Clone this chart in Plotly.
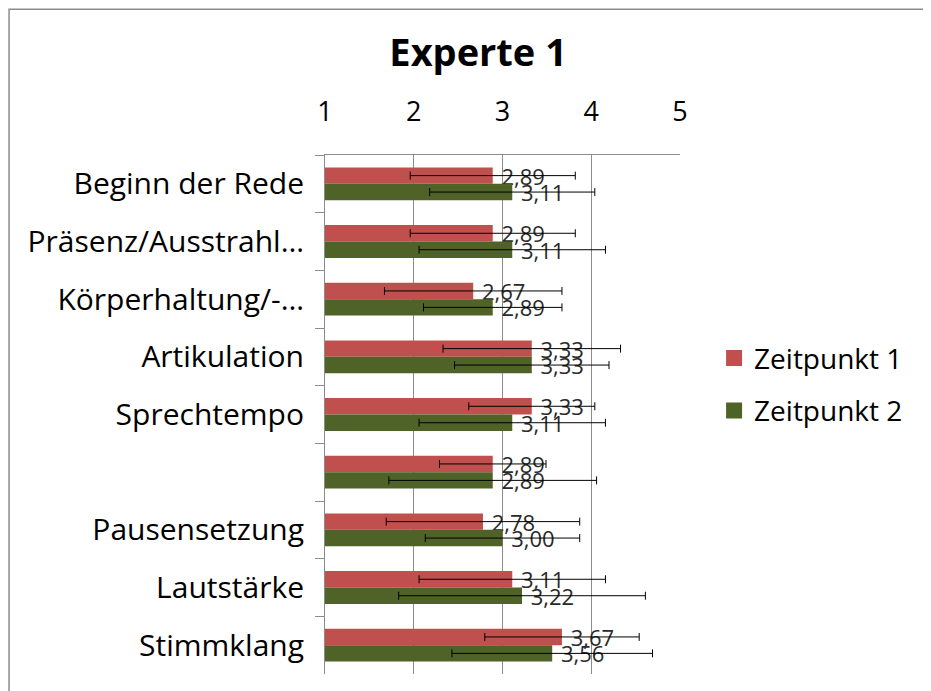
import plotly.graph_objects as go

categories = [
    "Beginn der Rede", "Präsenz/Ausstrahl…", "Körperhaltung/-…", "Artikulation",
    "Sprechtempo", " ", "Pausensetzung", "Lautstärke", "Stimmklang",
]
zeitpunkt1 = [2.89, 2.89, 2.67, 3.33, 3.33, 2.89, 2.78, 3.11, 3.67]
zeitpunkt2 = [3.11, 3.11, 2.89, 3.33, 3.11, 2.89, 3.00, 3.22, 3.56]
sd1 = [0.93, 0.93, 1.00, 1.00, 0.71, 0.60, 1.09, 1.05, 0.87]
sd2 = [0.93, 1.05, 0.78, 0.87, 1.05, 1.17, 0.87, 1.39, 1.13]

FONT = "Open Sans, Lato, sans-serif"
GRID = "#8c8c8c"


def de(v):
    return "\u00a0" + f"{v:.2f}".replace(".", ",")


fig = go.Figure()
series = [
    ("Zeitpunkt 1", zeitpunkt1, sd1, "#C0504D", "a"),
    ("Zeitpunkt 2", zeitpunkt2, sd2, "#4F6228", "b"),
]
for name, vals, sds, color, grp in series:
    fig.add_trace(go.Bar(
        name=name, y=categories, x=vals, orientation="h",
        marker=dict(color=color, line=dict(width=0)),
        text=[de(v) for v in vals], textposition="outside", constraintext="none",
        textfont=dict(family=FONT, size=22, color="#2a2a2a"),
        error_x=dict(type="data", array=sds, color="#000000", thickness=1, width=4),
        legendgroup=grp, showlegend=False,
    ))
# legend entries with bigger square swatches
for name, vals, sds, color, grp in series:
    fig.add_trace(go.Scatter(
        name=name, x=[None], y=[None], mode="markers",
        marker=dict(symbol="square", size=19, color=color),
        legendgroup=grp, showlegend=True,
    ))

fig.update_layout(
    width=931, height=691,
    paper_bgcolor="#ffffff", plot_bgcolor="#ffffff",
    font=dict(family=FONT, color="#000000"),
    barmode="group", bargap=0.43, bargroupgap=0,
    margin=dict(l=317, r=259, t=147, b=25, autoexpand=False),
    title=dict(text="<b>Experte 1</b>", x=0.505, xanchor="center", y=0.936, yanchor="middle",
               font=dict(size=38, family=FONT, color="#000000")),
    xaxis=dict(side="top", range=[1, 5], dtick=1, showgrid=True, gridcolor=GRID, gridwidth=1,
               showline=True, linecolor=GRID, ticks="", zeroline=False,
               ticklabelstandoff=22, tickfont=dict(size=27, family=FONT)),
    yaxis=dict(type="category", autorange="reversed", showgrid=False, showline=True,
               linecolor=GRID, ticks="outside", tickson="boundaries", ticklen=9,
               tickcolor=GRID, ticklabelstandoff=14, tickfont=dict(size=30, family=FONT)),
    legend=dict(x=1.096, xanchor="left", y=0.558, yanchor="middle", traceorder="grouped",
                tracegroupgap=13, font=dict(size=28, family=FONT)),
    showlegend=True,
)

fig.add_shape(type="rect", xref="paper", yref="paper", x0=-0.890, x1=1.75, y0=-0.2, y1=1.281,
              line=dict(color="#8c8c8c", width=1.5), fillcolor="rgba(0,0,0,0)", layer="below")

fig.write_html("out.html")
